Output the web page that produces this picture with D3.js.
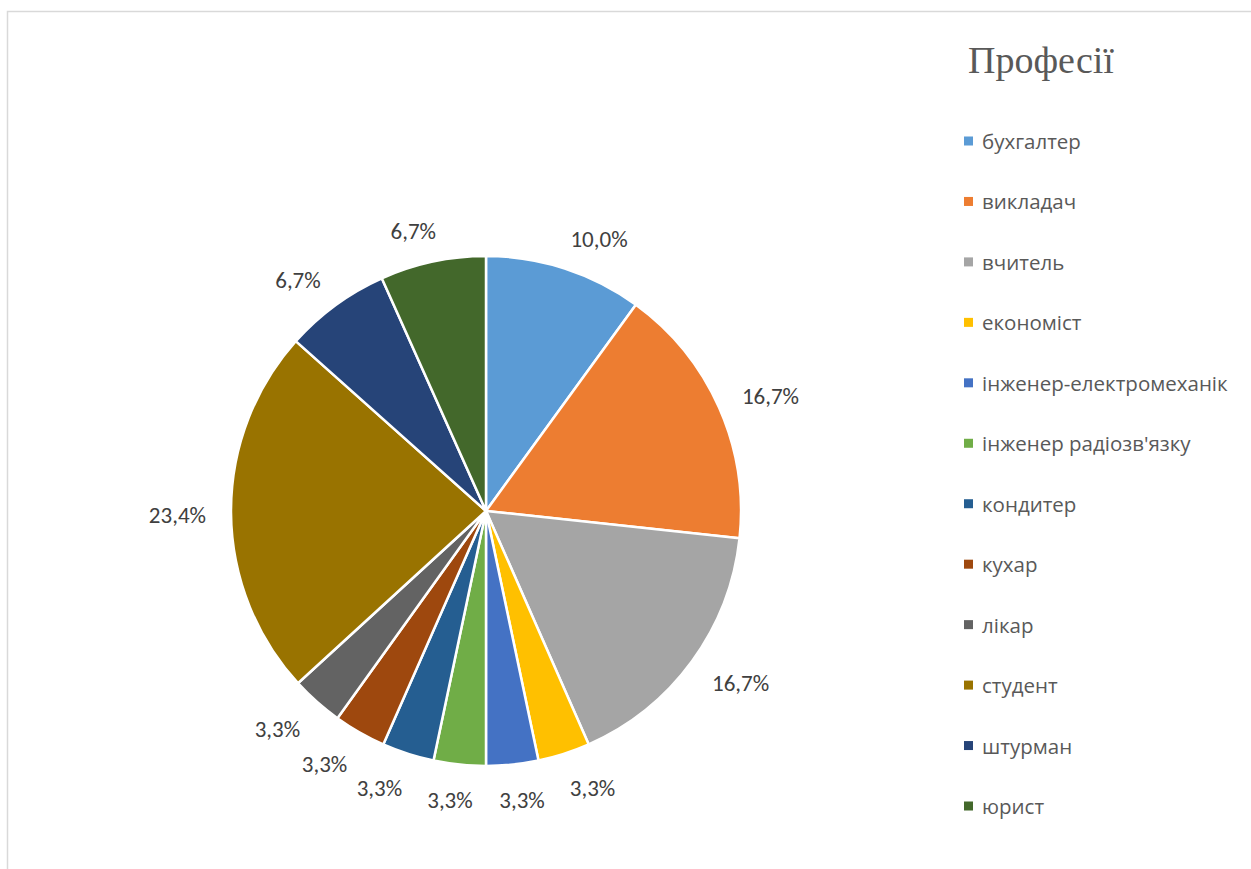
<!DOCTYPE html>
<html>
<head>
<meta charset="utf-8">
<script src="https://cdn.jsdelivr.net/npm/d3@7"></script>
<style>
  body { margin: 0; background: #fff; }
  svg { display: block; }
</style>
</head>
<body>
<svg id="chart" width="1251" height="869"></svg>
<script>
// data (percent of respondents)
var professions = ["бухгалтер", "викладач", "вчитель", "економіст", "інженер-електромеханік",
                   "інженер радіозв'язку", "кондитер", "кухар", "лікар", "студент", "штурман", "юрист"];
var shares = [10.0, 16.7, 16.7, 3.3, 3.3, 3.3, 3.3, 3.3, 3.3, 23.4, 6.7, 6.7];
var sliceColors = ["#5b9bd5", "#ed7d31", "#a5a5a5", "#ffc000", "#4472c4", "#70ad47",
                   "#255e91", "#9e480e", "#636363", "#997300", "#264478", "#43682b"];
var chartTitle = "Професії";

var svg = d3.select("#chart");
var labelFont = "Calibri, Carlito, 'Open Sans', sans-serif";

// chart area frame, runs off the right and bottom edges
svg.append("rect")
   .attr("x", 7.5).attr("y", 11.5)
   .attr("width", 1400).attr("height", 1000)
   .attr("fill", "none")
   .attr("stroke", "#d9d9d9")
   .attr("stroke-width", 1.5);

var cx = 486, cy = 511, radius = 255;

var data = professions.map(function(p, i){ return {name: p, value: shares[i]}; });

var color = d3.scaleOrdinal().domain(professions).range(sliceColors);

var pie = d3.pie().sort(null).value(function(d){ return d.value; });
var arc = d3.arc().innerRadius(0).outerRadius(radius);

var g = svg.append("g").attr("transform", "translate(" + cx + "," + cy + ")");

var arcs = pie(data);

g.selectAll("path.slice")
 .data(arcs)
 .enter().append("path")
 .attr("class", "slice")
 .attr("d", arc)
 .attr("fill", function(d){ return color(d.data.name); })
 .attr("stroke", "#fff")
 .attr("stroke-width", 2.5)
 .attr("stroke-linejoin", "round");

// outside labels, placed so the box corner facing the pie sits just past the rim
var labelR = radius + 25;
var fmt = function(v){ return v.toFixed(1).replace(".", ",") + "%"; };

g.selectAll("text.lbl")
 .data(arcs)
 .enter().append("text")
 .attr("class", "lbl")
 .attr("font-family", labelFont)
 .attr("font-size", "23px")
 .attr("fill", "#404040")
 .attr("text-anchor", "middle")
 .attr("dominant-baseline", "central")
 .text(function(d){ return fmt(d.data.value); })
 .each(function(d){
     var bb = this.getBBox();
     var a = (d.startAngle + d.endAngle) / 2;
     var px = Math.sin(a) * labelR, py = -Math.cos(a) * labelR;
     var fx = Math.max(-1, Math.min(1, Math.sin(a) * 3));
     var fy = -Math.cos(a);
     d3.select(this)
       .attr("x", px + fx * bb.width / 2)
       .attr("y", py + fy * 17 / 2 + 2);
 });

// title
svg.append("text")
   .attr("x", 968).attr("y", 73)
   .attr("font-family", "'Times New Roman', 'Liberation Serif', serif")
   .attr("font-size", "38px")
   .attr("fill", "#595959")
   .text(chartTitle);

// legend
var ly = d3.scalePoint().domain(professions).range([141, 806]);

var leg = svg.append("g").selectAll("g")
   .data(professions)
   .enter().append("g")
   .attr("transform", function(d){ return "translate(964," + ly(d) + ")"; });

leg.append("rect")
   .attr("x", 0).attr("y", -4.5)
   .attr("width", 9).attr("height", 9)
   .attr("fill", function(d){ return color(d); });

leg.append("text")
   .attr("x", 18).attr("y", 0)
   .attr("dominant-baseline", "central")
   .attr("font-family", "'Open Sans', sans-serif")
   .attr("font-size", "20.5px")
   .attr("fill", "#595959")
   .text(function(d){ return d; });
</script>
</body>
</html>
